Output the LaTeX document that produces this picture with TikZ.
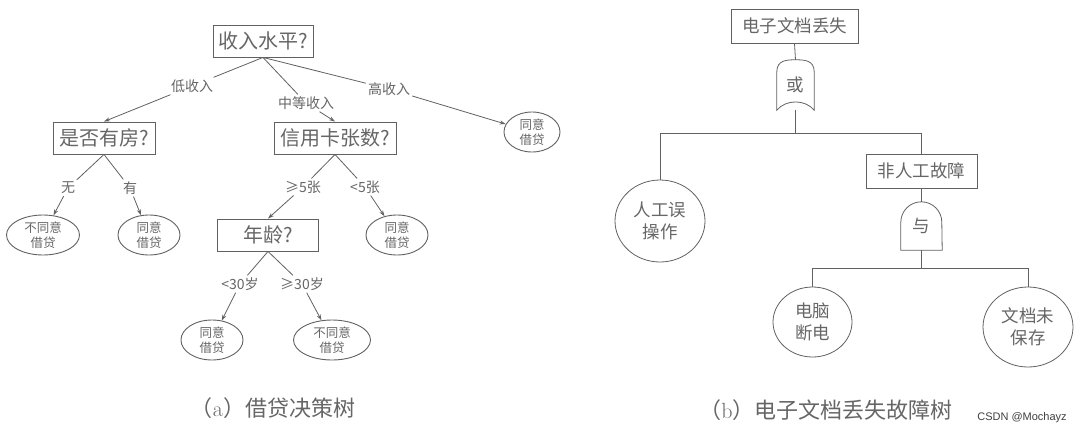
\documentclass[tikz,border=0pt]{standalone}
\usepackage{fontspec}
\newfontfamily\cjk{Noto Sans CJK SC}
\newfontfamily\wmfont{Liberation Sans}
\usetikzlibrary{shapes.geometric,arrows.meta}
\definecolor{ink}{gray}{0.38}
\definecolor{txt}{gray}{0.40}
\begin{document}
\begin{tikzpicture}[x=1pt,y=-1pt,
  every node/.style={text=txt},
  qbox/.style={draw=ink,line width=0.9pt,inner sep=0pt,minimum height=32pt,font=\cjk\fontsize{20}{24}\selectfont},
  leaf/.style={draw=ink,line width=0.9pt,ellipse,inner sep=0pt,minimum height=40pt,align=center,font=\cjk\fontsize{12.5}{15}\selectfont},
  elab/.style={inner sep=2pt,font=\cjk\fontsize{14}{16}\selectfont},
  fbox/.style={draw=ink,line width=0.8pt,inner sep=0pt,minimum height=34pt,font=\cjk\fontsize{17.5}{20}\selectfont},
  fev/.style={draw=ink,line width=0.8pt,ellipse,inner sep=0pt,align=center,font=\cjk\fontsize{17.5}{22}\selectfont},
  gatelab/.style={inner sep=0pt,font=\cjk\fontsize{17.5}{20}\selectfont},
  edge/.style={draw=ink,line width=0.8pt},
  arr/.style={draw=ink,line width=0.8pt,-{Stealth[length=6pt,width=4pt]}},
  captext/.style={font=\cjk\fontsize{22}{26}\selectfont}
]
\useasboundingbox (0,0) rectangle (1086,434);
\fill[white] (0,0) rectangle (1086,434);

% ---------- (a) decision tree ----------
\node[qbox,minimum width=100pt] (root) at (263,41) {收入水平?};
\node[qbox,minimum width=102pt] (house) at (104,138) {是否有房?};
\node[qbox,minimum width=122pt] (card) at (335,138) {信用卡张数?};
\node[qbox,minimum width=101pt] (age) at (268,235) {年龄?};

\node[leaf,minimum width=56pt] (lhigh) at (532,132) {同意\\借贷};
\node[leaf,minimum width=73pt] (lno1) at (43,235) {不同意\\借贷};
\node[leaf,minimum width=62pt] (lyes1) at (149,235) {同意\\借贷};
\node[leaf,minimum width=62pt] (lyes2) at (397,235) {同意\\借贷};
\node[leaf,minimum width=62pt] (lyes3) at (212,340) {同意\\借贷};
\node[leaf,minimum width=77pt] (lno2) at (332,340) {不同意\\借贷};

\node[elab] (low) at (192,86) {低收入};
\node[elab] (mid) at (306,103) {中等收入};
\node[elab] (high) at (389,89) {高收入};
\node[elab] (wu) at (68,188) {无};
\node[elab] (you) at (130,188) {有};
\node[elab] (ge5) at (303,187) {≥5张};
\node[elab] (lt5) at (365,187) {<5张};
\node[elab] (lt30) at (240,284) {<30岁};
\node[elab] (ge30) at (302,284) {≥30岁};

\draw[edge] (root.south) -- (low);
\draw[arr] (low) -- (house.north);
\draw[edge] (root.south) -- (mid);
\draw[arr] (mid) -- (card.north);
\draw[edge] (root.south) -- (high);
\draw[arr] (high) -- (lhigh);

\draw[edge] (house.south) -- (wu);
\draw[arr] (wu) -- (lno1);
\draw[edge] (house.south) -- (you);
\draw[arr] (you) -- (lyes1);

\draw[edge] (card.south) -- (ge5);
\draw[arr] (ge5) -- (age.north);
\draw[edge] (card.south) -- (lt5);
\draw[arr] (lt5) -- (lyes2);

\draw[edge] (age.south) -- (lt30);
\draw[arr] (lt30) -- (lyes3);
\draw[edge] (age.south) -- (ge30);
\draw[arr] (ge30) -- (lno2);

\node[captext] (capa) at (273,408) {（\textrm{a}）借贷决策树};

% ---------- (b) fault tree ----------
\node[fbox,minimum width=127pt] (top) at (794.5,26) {电子文档丢失};
\node[gatelab,minimum width=37pt,minimum height=50pt] (orgate) at (795.5,85) {或};
\draw[edge] (orgate.south west) -- ([yshift=-12pt]orgate.north west)
  .. controls (orgate.north west) and ([xshift=-8pt]orgate.north) .. (orgate.north)
  .. controls ([xshift=8pt]orgate.north) and (orgate.north east) .. ([yshift=-12pt]orgate.north east)
  -- (orgate.south east)
  .. controls ([xshift=-9pt,yshift=11pt]orgate.south east) and ([xshift=9pt,yshift=11pt]orgate.south west) .. (orgate.south west) -- cycle;

\node[fev,minimum width=90pt,minimum height=82pt] (human) at (660,221) {人工误\\操作};
\node[fbox,minimum width=111pt] (nonhuman) at (921.5,171) {非人工故障};

\node[gatelab,minimum width=41pt,minimum height=48pt] (andgate) at (921.5,226) {与};
\draw[edge] (andgate.south west) -- ([yshift=-20.5pt]andgate.north west)
  arc[start angle=180,end angle=0,radius=20.5pt] -- (andgate.south east) -- cycle;

\node[fev,minimum width=79pt,minimum height=70pt] (power) at (812.5,322) {电脑\\断电};
\node[fev,minimum width=90pt,minimum height=80pt] (unsaved) at (1028,327) {文档未\\保存};

\coordinate (bar1) at (795.5,133);
\coordinate (bar2) at (921.5,268);

\draw[edge] (top.south) -- (orgate.north);
\draw[edge] (orgate.south) -- (bar1);
\draw[edge] (human.north) -- (human.north |- bar1) -- (nonhuman.north |- bar1) -- (nonhuman.north);
\draw[edge] (nonhuman.south) -- (andgate.north);
\draw[edge] (andgate.south) -- (bar2);
\draw[edge] (power.north) -- (power.north |- bar2) -- (unsaved.north |- bar2) -- (unsaved.north);

\node[captext] (capb) at (826,410) {（\textrm{b}）电子文档丢失故障树};
\node[font=\wmfont\fontsize{11}{13}\selectfont,text=black!75] (wm) at (1022,418) {CSDN @Mochayz};
\end{tikzpicture}
\end{document}
